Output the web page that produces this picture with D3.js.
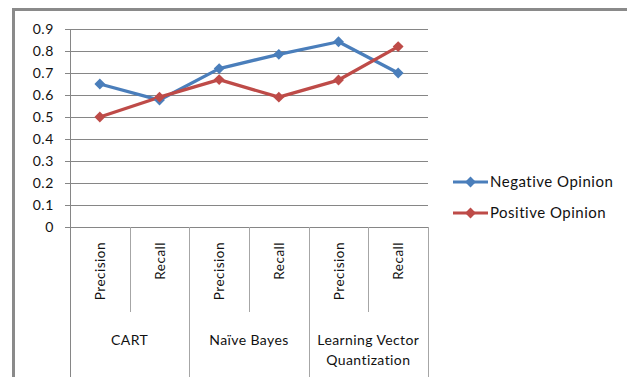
<!DOCTYPE html>
<html>
<head>
<meta charset="utf-8">
<script src="https://cdn.jsdelivr.net/npm/d3@7"></script>
<style>
  html, body { margin: 0; padding: 0; background: #fff; }
  svg { display: block; }
  text { font-family: Lato, "Open Sans", sans-serif; fill: #111; }
</style>
</head>
<body>
<svg id="chart" width="627" height="377"></svg>
<script>
// Categories: metric per classifier
const metrics = ["Precision", "Recall", "Precision", "Recall", "Precision", "Recall"];
const groups = ["CART", "Naïve Bayes", "Learning Vector Quantization"];
const groupLines = [["CART"], ["Naïve Bayes"], ["Learning Vector", "Quantization"]];
const negativeOpinion = [0.65, 0.577, 0.72, 0.785, 0.842, 0.70];
const positiveOpinion = [0.50, 0.59, 0.67, 0.59, 0.668, 0.82];
const yTicks = [0, 0.1, 0.2, 0.3, 0.4, 0.5, 0.6, 0.7, 0.8, 0.9];
const seriesNames = ["Negative Opinion", "Positive Opinion"];
const seriesColors = ["#4A7EBB", "#BE4B48"];

const svg = d3.select("#chart");

// outer frame (left and top edges)
svg.append("path")
  .attr("d", "M13.5,377 V9.5 H627")
  .attr("fill", "none")
  .attr("stroke", "#8a8a8a")
  .attr("stroke-width", 3);

const plot = { left: 70, right: 428, top: 29, bottom: 227 };

const x = d3.scaleBand()
  .domain(d3.range(metrics.length))
  .range([plot.left, plot.right])
  .paddingInner(0).paddingOuter(0);

const y = d3.scaleLinear().domain([0, 0.9]).range([plot.bottom, plot.top]);

// horizontal gridlines with outward ticks
svg.append("g").selectAll("line")
  .data(yTicks.filter(d => d > 0))
  .join("line")
  .attr("x1", plot.left - 5).attr("x2", plot.right)
  .attr("y1", d => Math.round(y(d)) + 0.5).attr("y2", d => Math.round(y(d)) + 0.5)
  .attr("stroke", "#868686").attr("stroke-width", 1);

// y axis labels
svg.append("g").selectAll("text")
  .data(yTicks)
  .join("text")
  .attr("x", 54)
  .attr("y", d => y(d))
  .attr("dy", "0.35em")
  .attr("text-anchor", "end")
  .attr("font-size", 14)
  .attr("letter-spacing", 0.6)
  .text(d => d === 0 ? "0" : d.toFixed(1));

// y axis line
svg.append("line")
  .attr("x1", plot.left + 0.5).attr("x2", plot.left + 0.5)
  .attr("y1", plot.top).attr("y2", 377)
  .attr("stroke", "#868686");

// category axis baseline
svg.append("line")
  .attr("x1", plot.left - 5).attr("x2", plot.right)
  .attr("y1", plot.bottom + 0.5).attr("y2", plot.bottom + 0.5)
  .attr("stroke", "#868686");

// category dividers: short between metrics, long between groups
const dividers = d3.range(1, metrics.length + 1);
svg.append("g").selectAll("line")
  .data(dividers)
  .join("line")
  .attr("x1", i => Math.round(x(i - 1) + x.bandwidth()) + 0.5)
  .attr("x2", i => Math.round(x(i - 1) + x.bandwidth()) + 0.5)
  .attr("y1", plot.bottom)
  .attr("y2", i => (i % 2 === 0) ? 377 : 312)
  .attr("stroke", "#a6a6a6");

// metric labels (rotated)
svg.append("g").selectAll("text")
  .data(metrics)
  .join("text")
  .attr("transform", (d, i) => `translate(${x(i) + x.bandwidth() / 2 + 5},242) rotate(-90)`)
  .attr("text-anchor", "end")
  .attr("font-size", 13.5)
  .attr("letter-spacing", 0.5)
  .text(d => d);

// group labels
groupLines.forEach((lines, g) => {
  const cx = (x(g * 2) + x(g * 2 + 1) + x.bandwidth()) / 2;
  lines.forEach((ln, k) => {
    svg.append("text")
      .attr("x", cx)
      .attr("y", 345 + k * 20)
      .attr("text-anchor", "middle")
      .attr("font-size", 14)
      .attr("letter-spacing", 0.4)
      .text(ln);
  });
});

// series lines and markers
const cxOf = i => x(i) + x.bandwidth() / 2;
const line = d3.line().x((d, i) => cxOf(i)).y(d => y(d));
const diamond = d3.symbol().type(d3.symbolDiamond2).size(75);

[negativeOpinion, positiveOpinion].forEach((vals, s) => {
  svg.append("path")
    .datum(vals)
    .attr("d", line)
    .attr("fill", "none")
    .attr("stroke", seriesColors[s])
    .attr("stroke-width", 3.3)
    .attr("stroke-linejoin", "round");
});
[negativeOpinion, positiveOpinion].forEach((vals, s) => {
  svg.append("g").selectAll("path")
    .data(vals)
    .join("path")
    .attr("transform", (d, i) => `translate(${cxOf(i)},${y(d)})`)
    .attr("d", diamond)
    .attr("fill", seriesColors[s]);
});

// legend
const legend = svg.append("g");
seriesNames.forEach((name, s) => {
  const ly = 182 + s * 31;
  legend.append("line")
    .attr("x1", 453).attr("x2", 488)
    .attr("y1", ly).attr("y2", ly)
    .attr("stroke", seriesColors[s]).attr("stroke-width", 3);
  legend.append("path")
    .attr("transform", `translate(470.5,${ly})`)
    .attr("d", diamond)
    .attr("fill", seriesColors[s]);
  legend.append("text")
    .attr("x", 490).attr("y", ly)
    .attr("dy", "0.35em")
    .attr("font-size", 15)
    .attr("letter-spacing", 0.5)
    .text(name);
});
</script>
</body>
</html>
